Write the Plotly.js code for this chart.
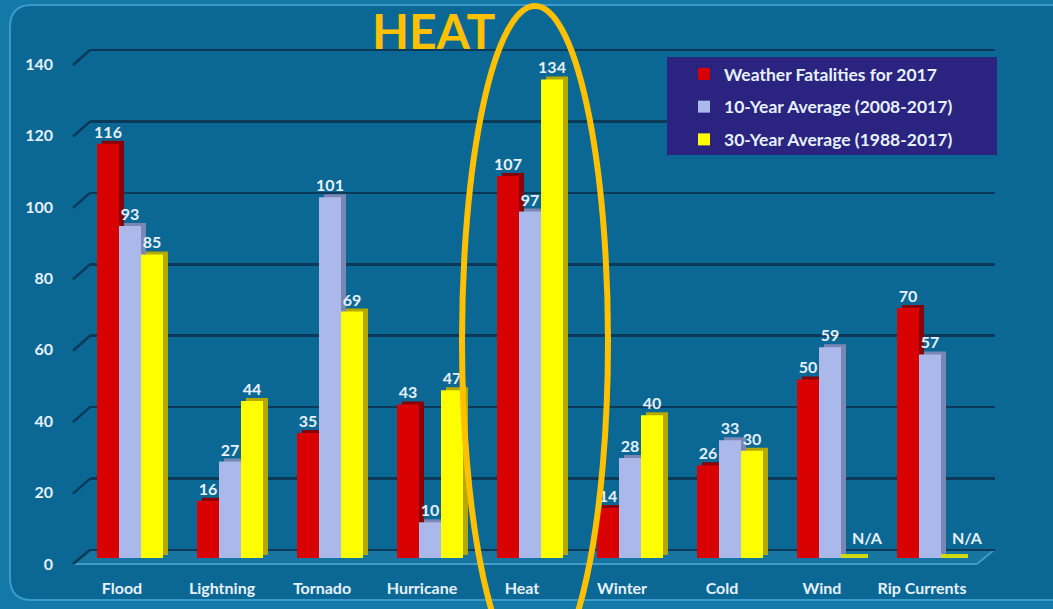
<!DOCTYPE html>
<html>
<head>
<meta charset="utf-8">
<script src="https://cdn.plot.ly/plotly-3.0.1.min.js"></script>
<style>
  html, body { margin: 0; padding: 0; background: #1479a7; }
  #chart { width: 1053px; height: 609px; }
</style>
</head>
<body>
<div id="chart"></div>
<script>
// Weather fatalities by hazard type
const categories = ['Flood', 'Lightning', 'Tornado', 'Hurricane', 'Heat', 'Winter', 'Cold', 'Wind', 'Rip Currents'];
const fatalities2017 = [116, 16, 35, 43, 107, 14, 26, 50, 70];
const average10yr = [93, 27, 101, 10, 97, 28, 33, 59, 57];
const average30yr = [85, 44, 69, 47, 134, 40, 30, null, null];
const seriesNames = ['Weather Fatalities for 2017', '10-Year Average (2008-2017)', '30-Year Average (1988-2017)'];
const yTicks = [0, 20, 40, 60, 80, 100, 120, 140];

// page geometry (pixels)
const W = 1053, H = 609;
const plotL = 90, plotR = 995, plotT = 45, plotB = 558;
const px = x => (x - plotL) / (plotR - plotL);
const py = y => (plotB - y) / (plotB - plotT);

// vertical scale shared by the three overlaid y axes
const unitPx = 3.571;
const span = (plotB - plotT) / unitPx;
const frontRange = [0, span];
const sideRange = [-3 / unitPx, span - 3 / unitPx];   // side faces sit 3px higher
const wallRange = [-8 / unitPx, span - 8 / unitPx];   // back wall sits 8px higher

const fontFamily = 'Lato, "Open Sans", sans-serif';
const textWhite = '#e6f1fb';

const frontColors = ['#d80000', '#aab8ea', '#ffff00'];
const sideColors = ['#8a0000', '#7b87b3', '#b5a800'];
const offsets = [-0.33, -0.11, 0.11];
const barWidth = 0.22;
const sideShift = 0.05;

const seriesValues = [fatalities2017, average10yr, average30yr];

const traces = [];
// side faces (drawn first, underneath the fronts)
seriesValues.forEach((vals, s) => {
  traces.push({
    type: 'bar', x: categories, y: vals,
    offset: offsets[s] + sideShift, width: barWidth,
    marker: { color: sideColors[s] },
    yaxis: 'y', showlegend: false, hoverinfo: 'skip'
  });
});
// front faces with value labels
seriesValues.forEach((vals, s) => {
  traces.push({
    type: 'bar', x: categories, y: vals, name: seriesNames[s],
    legendgroup: 'g' + s,
    offset: offsets[s], width: barWidth,
    marker: { color: frontColors[s] },
    text: vals.map(v => v === null ? '' : String(v)),
    textposition: 'outside', constraintext: 'none', cliponaxis: false,
    textfont: { family: fontFamily, size: 16, color: textWhite, weight: 'bold' },
    yaxis: 'y2', hoverinfo: 'x+y+name'
  });
});
// anchor trace for the back-wall axis
traces.push({
  type: 'scatter', x: [categories[0]], y: [0], mode: 'markers',
  marker: { opacity: 0 }, yaxis: 'y3', showlegend: false, hoverinfo: 'skip'
});

// wall position of a tick value in page pixels
const wallY = v => plotB - (v - wallRange[0]) * unitPx;

const shapes = [];
// outer rounded frame
(function () {
  const x0 = 10, y0 = 5, x1 = 1070, y1 = 600, r = 22;
  const d = `M${px(x0 + r)},${py(y0)} L${px(x1)},${py(y0)} L${px(x1)},${py(y1)} L${px(x0 + r)},${py(y1)} ` +
    `Q${px(x0)},${py(y1)} ${px(x0)},${py(y1 - r)} L${px(x0)},${py(y0 + r)} Q${px(x0)},${py(y0)} ${px(x0 + r)},${py(y0)} Z`;
  shapes.push({ type: 'path', xref: 'paper', yref: 'paper', path: d, fillcolor: '#0b6894',
    line: { color: '#3a9acb', width: 2 }, layer: 'below' });
})();
// floor
(function () {
  const fy = 564, by = wallY(0);
  const d = `M${px(73)},${py(fy)} L${px(92)},${py(by)} L${px(994)},${py(by)} L${px(977)},${py(fy)} Z`;
  shapes.push({ type: 'path', xref: 'paper', yref: 'paper', path: d, fillcolor: '#1675a1',
    line: { width: 0 }, layer: 'below' });
  shapes.push({ type: 'line', xref: 'paper', yref: 'paper', x0: px(73), y0: py(fy), x1: px(977), y1: py(fy),
    line: { color: '#3f9cc8', width: 2 }, layer: 'below' });
  shapes.push({ type: 'line', xref: 'paper', yref: 'paper', x0: px(977), y0: py(fy), x1: px(994), y1: py(by),
    line: { color: '#3f9cc8', width: 2 }, layer: 'below' });
})();
// side-wall edges running from each tick to its gridline
yTicks.forEach(v => {
  const yb = wallY(v);
  const yf = v === 0 ? 564 : yb + 15;
  shapes.push({ type: 'line', xref: 'paper', yref: 'paper', x0: px(73), y0: py(yf), x1: px(plotL), y1: py(yb),
    line: { color: '#0b3a58', width: 2.5 }, layer: 'below' });
});
// flat yellow bases where the 30-year average is not available
average30yr.forEach((v, i) => {
  if (v === null) {
    shapes.push({ type: 'rect', xref: 'x', yref: 'y2', x0: i + offsets[2], x1: i + offsets[2] + barWidth + sideShift,
      y0: 0, y1: 1.1, fillcolor: '#d4dc10', line: { width: 0 } });
  }
});
// legend panel
shapes.push({ type: 'rect', xref: 'paper', yref: 'paper', x0: px(667), x1: px(997), y0: py(155), y1: py(57),
  fillcolor: '#2a2380', line: { width: 0 }, layer: 'above' });
// highlight ellipse around the heat group
shapes.push({ type: 'circle', xref: 'paper', yref: 'paper', x0: px(462), x1: px(608), y0: py(676), y1: py(6),
  line: { color: '#ffc000', width: 6 }, layer: 'above' });

const annotations = [
  { xref: 'paper', yref: 'paper', x: px(434), y: py(31), xanchor: 'center', yanchor: 'middle',
    text: 'HEAT', showarrow: false,
    font: { family: fontFamily, size: 48, color: '#ffc000', weight: 'bold' } }
];
average30yr.forEach((v, i) => {
  if (v === null) {
    annotations.push({ xref: 'x', yref: 'y2', x: i + offsets[2] + barWidth / 2, y: 0,
      xanchor: 'center', yanchor: 'bottom', xshift: 15, yshift: 9, text: 'N/A', showarrow: false,
      font: { family: fontFamily, size: 16, color: textWhite, weight: 'bold' } });
  }
});

const layout = {
  width: W, height: H,
  margin: { l: plotL, r: W - plotR, t: plotT, b: H - plotB, pad: 0 },
  paper_bgcolor: '#1479a7',
  plot_bgcolor: 'rgba(0,0,0,0)',
  barmode: 'overlay',
  showlegend: true,
  legend: {
    x: px(684), y: py(56), xanchor: 'left', yanchor: 'top',
    bgcolor: 'rgba(0,0,0,0)', borderwidth: 0,
    traceorder: 'grouped', tracegroupgap: 7,
    font: { family: fontFamily, size: 17.5, color: textWhite, weight: 'bold' }
  },
  xaxis: {
    type: 'category', range: [-0.4, 8.65], fixedrange: true,
    showgrid: false, zeroline: false, showline: false, ticks: '',
    ticklabelshift: -8, ticklabelstandoff: 19,
    tickfont: { family: fontFamily, size: 16, color: textWhite, weight: 'bold' }
  },
  yaxis: {
    range: sideRange, showgrid: false, zeroline: false, showline: false,
    showticklabels: false, ticks: '', fixedrange: true
  },
  yaxis2: {
    overlaying: 'y', range: frontRange, showgrid: false, zeroline: false, showline: false,
    showticklabels: false, ticks: '', fixedrange: true
  },
  yaxis3: {
    overlaying: 'y', range: wallRange, tickvals: yTicks, ticktext: yTicks.map(String),
    showgrid: true, gridcolor: '#0b3a58', gridwidth: 2.5, zeroline: false, showline: false,
    ticks: '', ticklabelshift: 14, ticklabelstandoff: 36, fixedrange: true,
    tickfont: { family: fontFamily, size: 16, color: textWhite, weight: 'bold' }
  },
  shapes: shapes,
  annotations: annotations
};

Plotly.newPlot('chart', traces, layout, { displayModeBar: false, staticPlot: true });
</script>
</body>
</html>
